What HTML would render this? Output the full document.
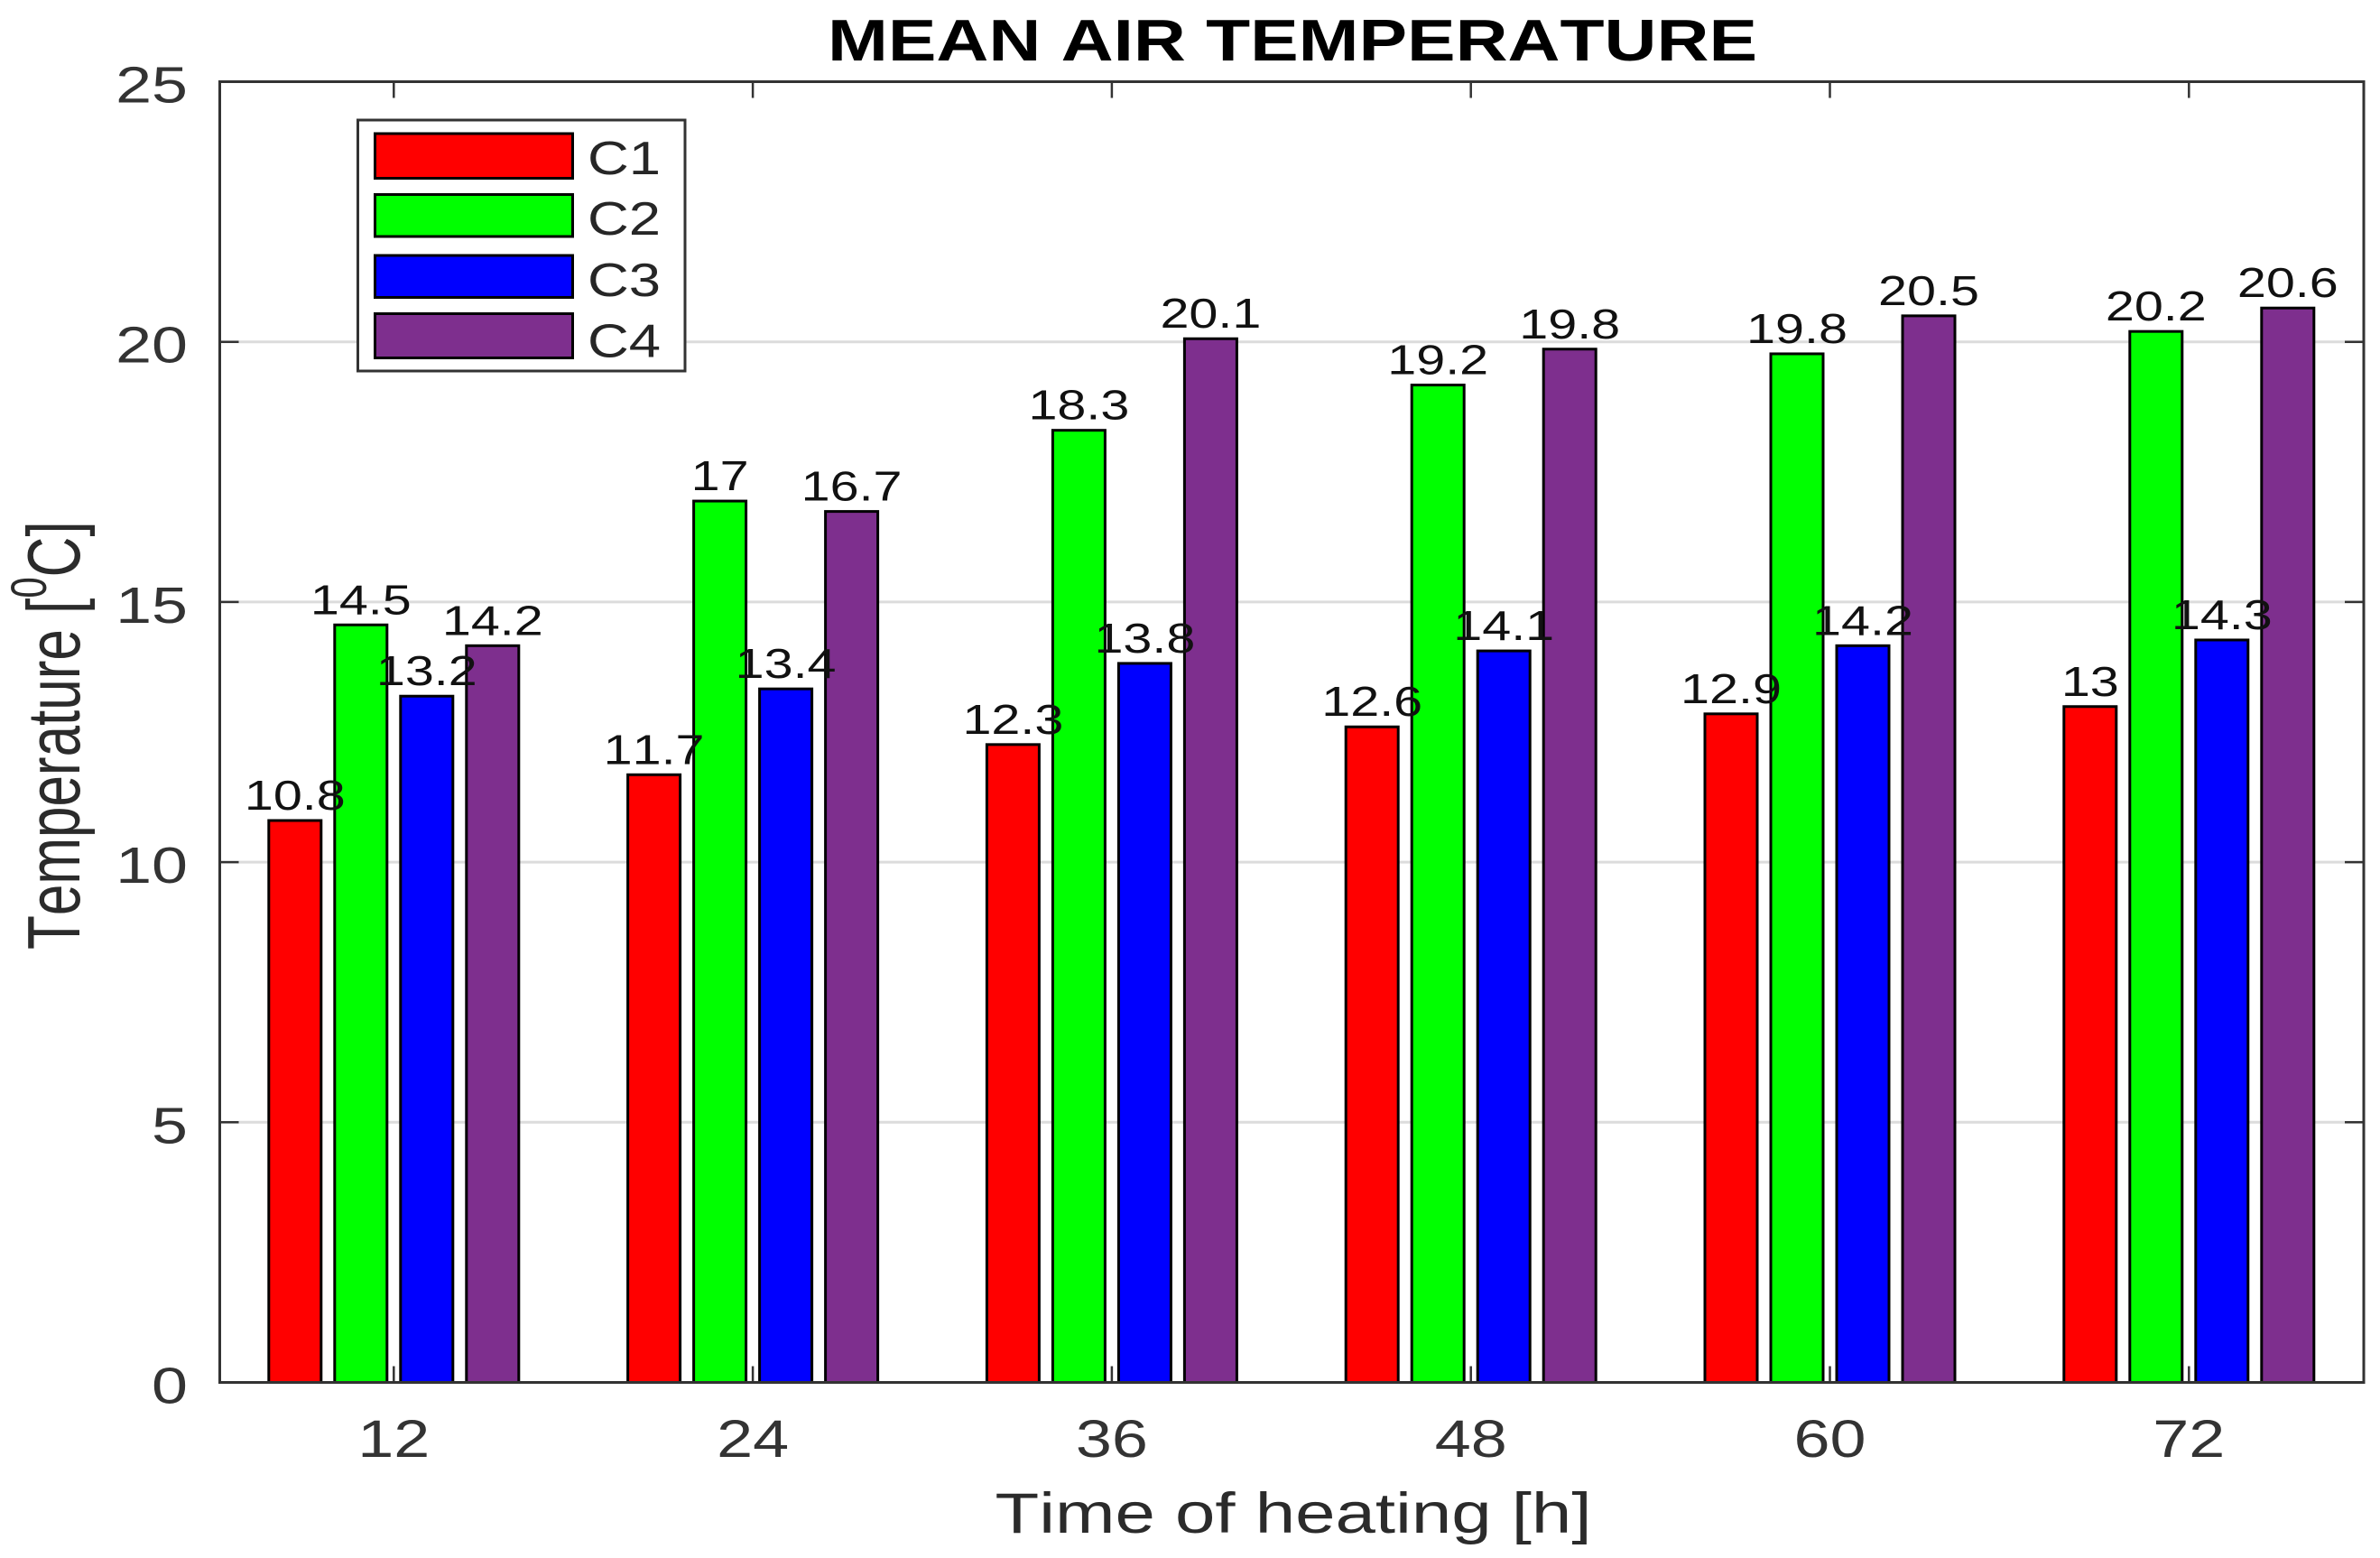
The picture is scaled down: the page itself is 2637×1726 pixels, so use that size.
<!DOCTYPE html>
<html lang="en">
<head>
<meta charset="utf-8">
<title>Mean Air Temperature</title>
<style>
html,body{margin:0;padding:0;background:#fff;}
svg{display:block;font-family:"Liberation Sans",Arial,sans-serif;font-kerning:none;}
</style>
</head>
<body>
<svg id="chart" xmlns="http://www.w3.org/2000/svg" width="2637" height="1726" viewBox="0 0 2637 1726">
  <rect x="0" y="0" width="2637" height="1726" fill="#ffffff"/>
  <g id="grid"></g>
  <g id="bars"></g>
  <g id="values"></g>
  <g id="ticks"></g>
  <rect x="243.5" y="90.5" width="2375.5" height="1441" fill="none" stroke="#333333" stroke-width="3"/>
  <g id="tick-labels"></g>

  <text x="1432" y="67" text-anchor="middle" font-size="65" font-weight="bold" fill="#000000" textLength="1030" lengthAdjust="spacingAndGlyphs">MEAN AIR TEMPERATURE</text>
  <text transform="translate(1433,1698) scale(1.267,1)" text-anchor="middle" font-size="63" fill="#2b2b2b">Time of heating [h]</text>
  <text transform="translate(88,1052) scale(1.33,1) rotate(-90)" font-size="62" fill="#2b2b2b">Temperature [<tspan font-size="42" dy="-28">0</tspan><tspan dy="28">C]</tspan></text>

  <g>
    <rect x="396.5" y="133" width="362.5" height="278" fill="#ffffff" stroke="#333333" stroke-width="3"/>
    <g>
      <rect x="415.5" y="148" width="219" height="49.5" fill="#ff0000" stroke="#000000" stroke-width="3"/>
      <text transform="translate(651,193) scale(1.22,1)" font-size="52" fill="#262626">C1</text>
    </g>
    <g>
      <rect x="415.5" y="215.5" width="219" height="46.5" fill="#00ff00" stroke="#000000" stroke-width="3"/>
      <text transform="translate(651,260) scale(1.22,1)" font-size="52" fill="#262626">C2</text>
    </g>
    <g>
      <rect x="415.5" y="283" width="219" height="46.5" fill="#0000ff" stroke="#000000" stroke-width="3"/>
      <text transform="translate(651,328) scale(1.22,1)" font-size="52" fill="#262626">C3</text>
    </g>
    <g>
      <rect x="415.5" y="347.5" width="219" height="49" fill="#7e2f8e" stroke="#000000" stroke-width="3"/>
      <text transform="translate(651,395.5) scale(1.22,1)" font-size="52" fill="#262626">C4</text>
    </g>
  </g>
</svg>
<script>
const categories = ['12', '24', '36', '48', '60', '72'];
const seriesNames = ['C1', 'C2', 'C3', 'C4'];
const seriesColors = ['#ff0000', '#00ff00', '#0000ff', '#7e2f8e'];
const c1Values = [10.8, 11.68, 12.26, 12.6, 12.85, 12.99];
const c2Values = [14.56, 16.94, 18.3, 19.17, 19.77, 20.2];
const c3Values = [13.19, 13.33, 13.82, 14.06, 14.16, 14.27];
const c4Values = [14.16, 16.74, 20.06, 19.86, 20.5, 20.65];
const c1Printed = ['10.8', '11.7', '12.3', '12.6', '12.9', '13'];
const c2Printed = ['14.5', '17', '18.3', '19.2', '19.8', '20.2'];
const c3Printed = ['13.2', '13.4', '13.8', '14.1', '14.2', '14.3'];
const c4Printed = ['14.2', '16.7', '20.1', '19.8', '20.5', '20.6'];
const yTickValues = [0, 5, 10, 15, 20, 25];

const allSeries = [c1Values, c2Values, c3Values, c4Values];
const allPrinted = [c1Printed, c2Printed, c3Printed, c4Printed];
const NS = 'http://www.w3.org/2000/svg';
const plotLeft = 243.5, plotRight = 2619, plotTop = 90.5, plotBottom = 1531.5;
const firstCenter = 436.3, groupStep = 397.8, barStep = 73, barWidth = 58;
const yMax = 25;

function xScale(i) { return firstCenter + i * groupStep; }
function yScale(v) { return plotBottom - (v / yMax) * (plotBottom - plotTop); }
function make(tag, attrs) {
  const el = document.createElementNS(NS, tag);
  for (const k in attrs) el.setAttribute(k, attrs[k]);
  return el;
}

const gridG = document.getElementById('grid');
const barsG = document.getElementById('bars');
const valuesG = document.getElementById('values');
const ticksG = document.getElementById('ticks');
const labelsG = document.getElementById('tick-labels');

yTickValues.forEach(function (v) {
  const y = yScale(v);
  if (v > 0 && v < yMax) {
    const grid = make('line', {x1: plotLeft, x2: plotRight, y1: y, y2: y, stroke: '#dcdcdc', 'stroke-width': 3});
    
    
    gridG.appendChild(grid);
    const tl = make('line', {x1: plotLeft, x2: plotLeft + 21, y1: y, y2: y, stroke: '#333333', 'stroke-width': 2.5});
    
    
    ticksG.appendChild(tl);
    const tr = make('line', {x1: plotRight - 21, x2: plotRight, y1: y, y2: y, stroke: '#333333', 'stroke-width': 2.5});
    
    
    ticksG.appendChild(tr);
  }
  const lab = make('text', {transform: 'translate(208,' + (y + 23) + ') scale(1.26,1)', 'text-anchor': 'end', 'font-size': 57, fill: '#333333'});
  
  
  lab.textContent = String(v);
  labelsG.appendChild(lab);
});

categories.forEach(function (cat, i) {
  const x = xScale(i);
  const tt = make('line', {x1: x, x2: x, y1: plotTop, y2: plotTop + 18, stroke: '#333333', 'stroke-width': 2.5});
  
  
  ticksG.appendChild(tt);
  const tb = make('line', {x1: x, x2: x, y1: plotBottom - 18, y2: plotBottom, stroke: '#333333', 'stroke-width': 2.5});
  
  
  ticksG.appendChild(tb);
  const lab = make('text', {transform: 'translate(' + x + ',1614) scale(1.24,1)', 'text-anchor': 'middle', 'font-size': 58, fill: '#333333'});
  
  
  lab.textContent = cat;
  labelsG.appendChild(lab);
});

allSeries.forEach(function (values, s) {
  values.forEach(function (v, i) {
    const cx = xScale(i) + (s - 1.5) * barStep;
    const top = yScale(v);
    const rect = make('rect', {x: cx - barWidth / 2, y: top, width: barWidth, height: plotBottom - top, fill: seriesColors[s], stroke: '#000000', 'stroke-width': 3});
    
    
    barsG.appendChild(rect);
    const val = make('text', {transform: 'translate(' + cx + ',' + (top - 12) + ') scale(1.25,1)', 'text-anchor': 'middle', 'font-size': 46, fill: '#111111'});
    
    
    val.textContent = allPrinted[s][i];
    valuesG.appendChild(val);
  });
});
</script>
</body>
</html>
